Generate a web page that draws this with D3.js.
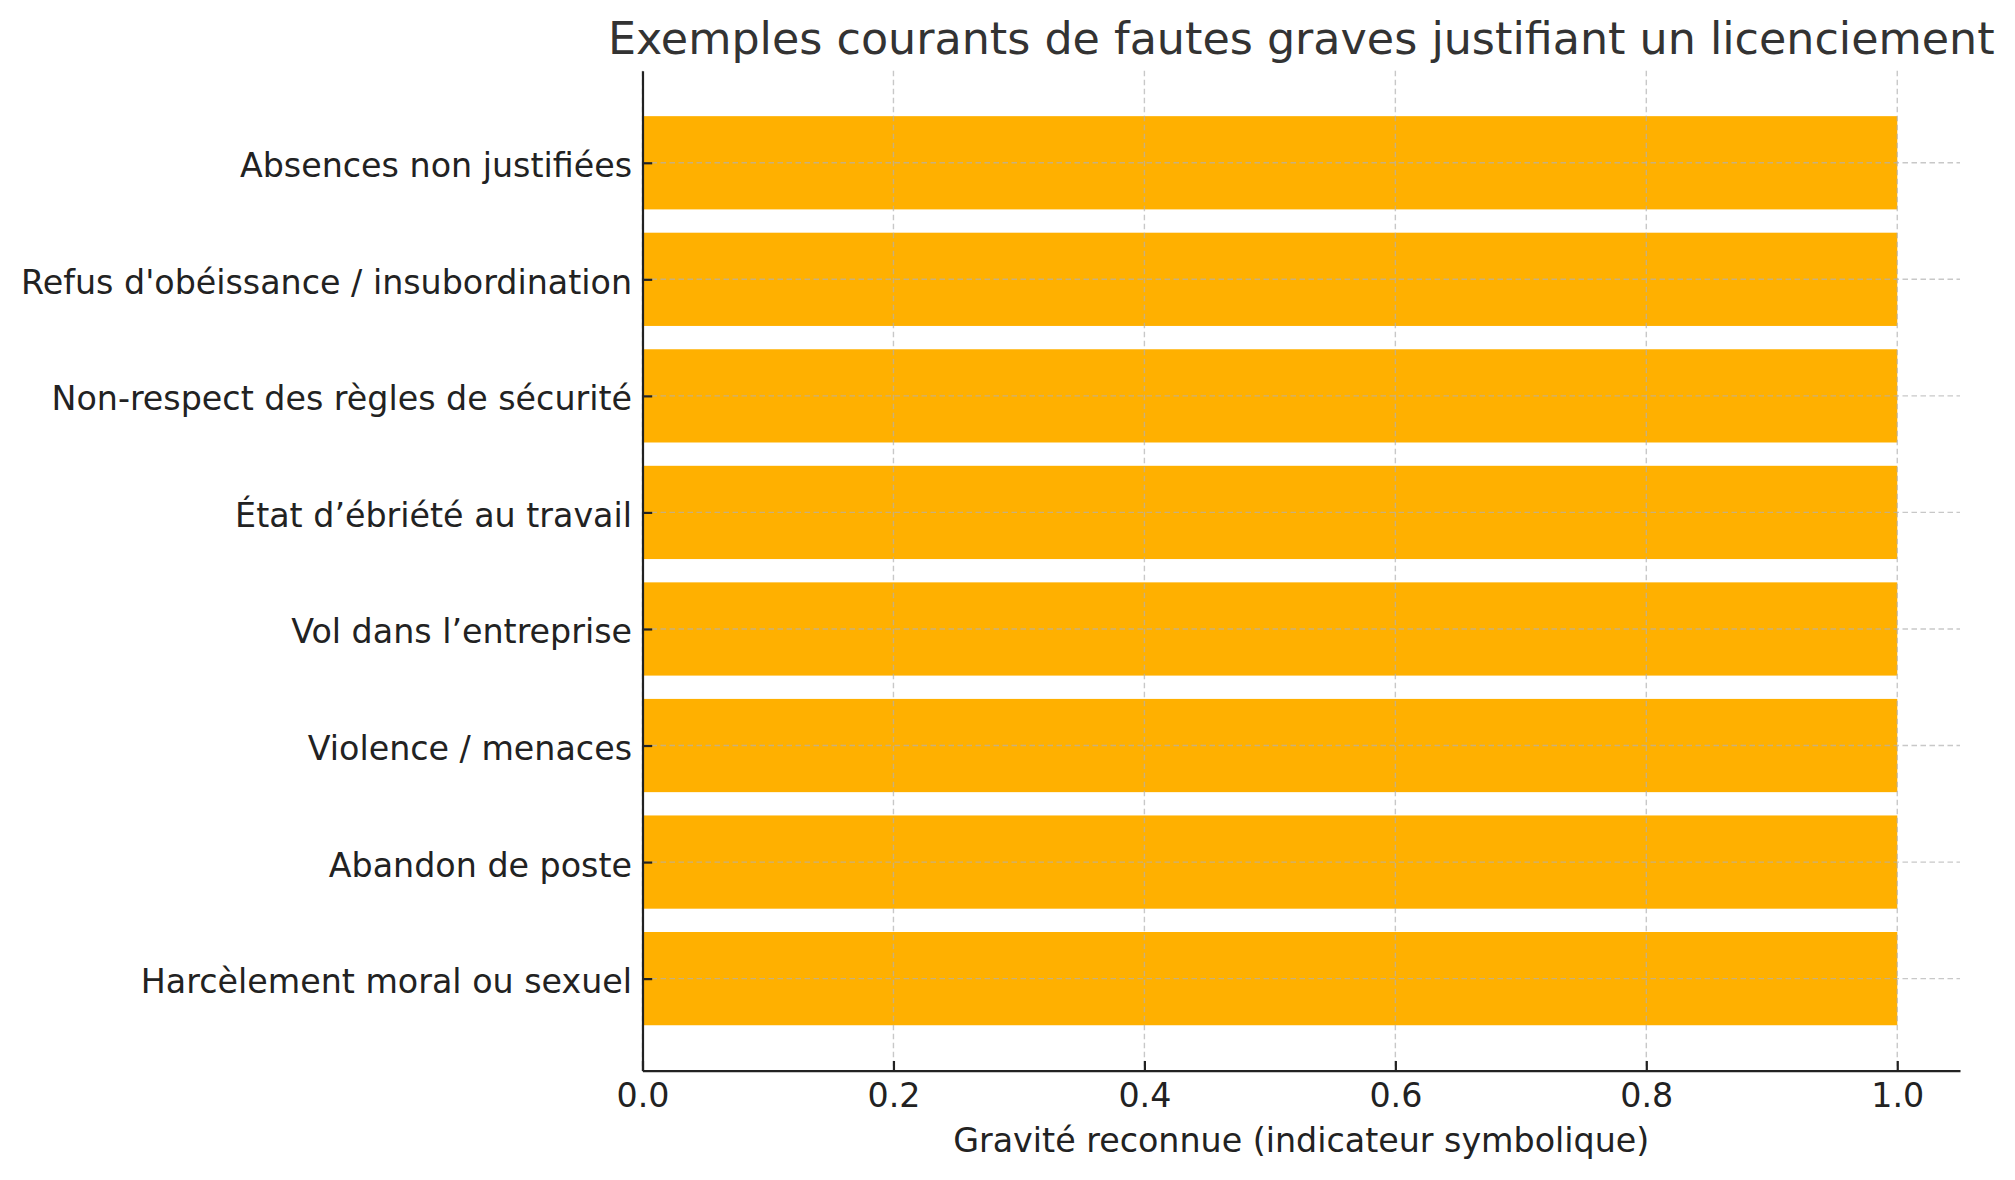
<!DOCTYPE html>
<html>
<head>
<meta charset="utf-8">
<script src="https://cdn.jsdelivr.net/npm/d3@7"></script>
<style>
  html, body { margin: 0; padding: 0; background: #ffffff; }
  svg { display: block; font-family: "DejaVu Sans", sans-serif; }
</style>
</head>
<body>
<div id="chart"></div>
<script>
// ---- data ----
const chartTitle = "Exemples courants de fautes graves justifiant un licenciement";
const xAxisLabel = "Gravité reconnue (indicateur symbolique)";
// categories listed from top to bottom
const categories = [
  "Absences non justifiées",
  "Refus d'obéissance / insubordination",
  "Non-respect des règles de sécurité",
  "État d’ébriété au travail",
  "Vol dans l’entreprise",
  "Violence / menaces",
  "Abandon de poste",
  "Harcèlement moral ou sexuel"
];
const values = [1, 1, 1, 1, 1, 1, 1, 1];
const xTicks = [0.0, 0.2, 0.4, 0.6, 0.8, 1.0];

(function () {
// ---- layout ----
const W = 2015, H = 1180;
const mLeft = 642.5, mRight = 1960, mTop = 70.7, mBottom = 1070.7;
const barColor = "#FFB000";

const svg = d3.select("#chart").append("svg")
  .attr("width", W).attr("height", H);

const x = d3.scaleLinear().domain([0, 1.05]).range([mLeft, mRight]);
// matplotlib-like positions: categories at integer positions, bottom = index 0
const n = categories.length;
const y = d3.scaleLinear().domain([-0.79, n - 1 + 0.79]).range([mBottom, mTop]);
const pos = (i) => n - 1 - i;   // first category at top
const barH = 0.8;

// bars
svg.append("g").selectAll("rect")
  .data(values)
  .join("rect")
  .attr("x", x(0))
  .attr("y", (d, i) => y(pos(i) + barH / 2))
  .attr("width", d => x(d) - x(0))
  .attr("height", (d, i) => y(pos(i) - barH / 2) - y(pos(i) + barH / 2))
  .attr("fill", barColor);

// grid (drawn above bars, semi-transparent)
const grid = svg.append("g")
  .attr("stroke", "#b0b0b0")
  .attr("stroke-opacity", 0.7)
  .attr("stroke-width", 1.4)
  .attr("stroke-dasharray", "5.5,3.5")
  .attr("fill", "none");
grid.selectAll("line.v")
  .data(xTicks)
  .join("line")
  .attr("class", "v")
  .attr("x1", d => x(d)).attr("x2", d => x(d))
  .attr("y1", mTop).attr("y2", mBottom);
grid.selectAll("line.h")
  .data(categories)
  .join("line")
  .attr("class", "h")
  .attr("x1", mLeft).attr("x2", mRight)
  .attr("y1", (d, i) => y(pos(i))).attr("y2", (d, i) => y(pos(i)));

// x axis
const xAxis = d3.axisBottom(x)
  .tickValues(xTicks)
  .tickFormat(d3.format(".1f"))
  .tickSizeInner(-9.7)
  .tickSizeOuter(0)
  .tickPadding(23);
const gx = svg.append("g")
  .attr("transform", `translate(0,${mBottom})`)
  .call(xAxis);
gx.select(".domain").attr("stroke", "#222").attr("stroke-width", 2.2);
gx.selectAll(".tick line").attr("stroke", "#222").attr("stroke-width", 2.2);
gx.selectAll(".tick text")
  .attr("font-family", "DejaVu Sans")
  .attr("font-size", 33.3)
  .attr("fill", "#222")
  .attr("dy", null)
  .attr("y", 36);

// y axis
const yAxis = d3.axisLeft(y)
  .tickValues(categories.map((d, i) => pos(i)))
  .tickFormat(v => categories[n - 1 - v])
  .tickSizeInner(-9.7)
  .tickSizeOuter(0)
  .tickPadding(20);
const gy = svg.append("g")
  .attr("transform", `translate(${mLeft},0)`)
  .call(yAxis);
gy.select(".domain").attr("stroke", "#222").attr("stroke-width", 2.2);
gy.selectAll(".tick line").attr("stroke", "#222").attr("stroke-width", 2.2);
gy.selectAll(".tick text")
  .attr("font-family", "DejaVu Sans")
  .attr("font-size", 33.3)
  .attr("fill", "#222")
  .attr("x", -10.5)
  .attr("dy", "0.42em");

// title
svg.append("text")
  .attr("x", (mLeft + mRight) / 2)
  .attr("y", 54)
  .attr("text-anchor", "middle")
  .attr("font-size", 44.4)
  .attr("fill", "#333")
  .text(chartTitle);

// x label
svg.append("text")
  .attr("x", (mLeft + mRight) / 2)
  .attr("y", 1152)
  .attr("text-anchor", "middle")
  .attr("font-size", 33.3)
  .attr("fill", "#222")
  .text(xAxisLabel);
})();
</script>
</body>
</html>
